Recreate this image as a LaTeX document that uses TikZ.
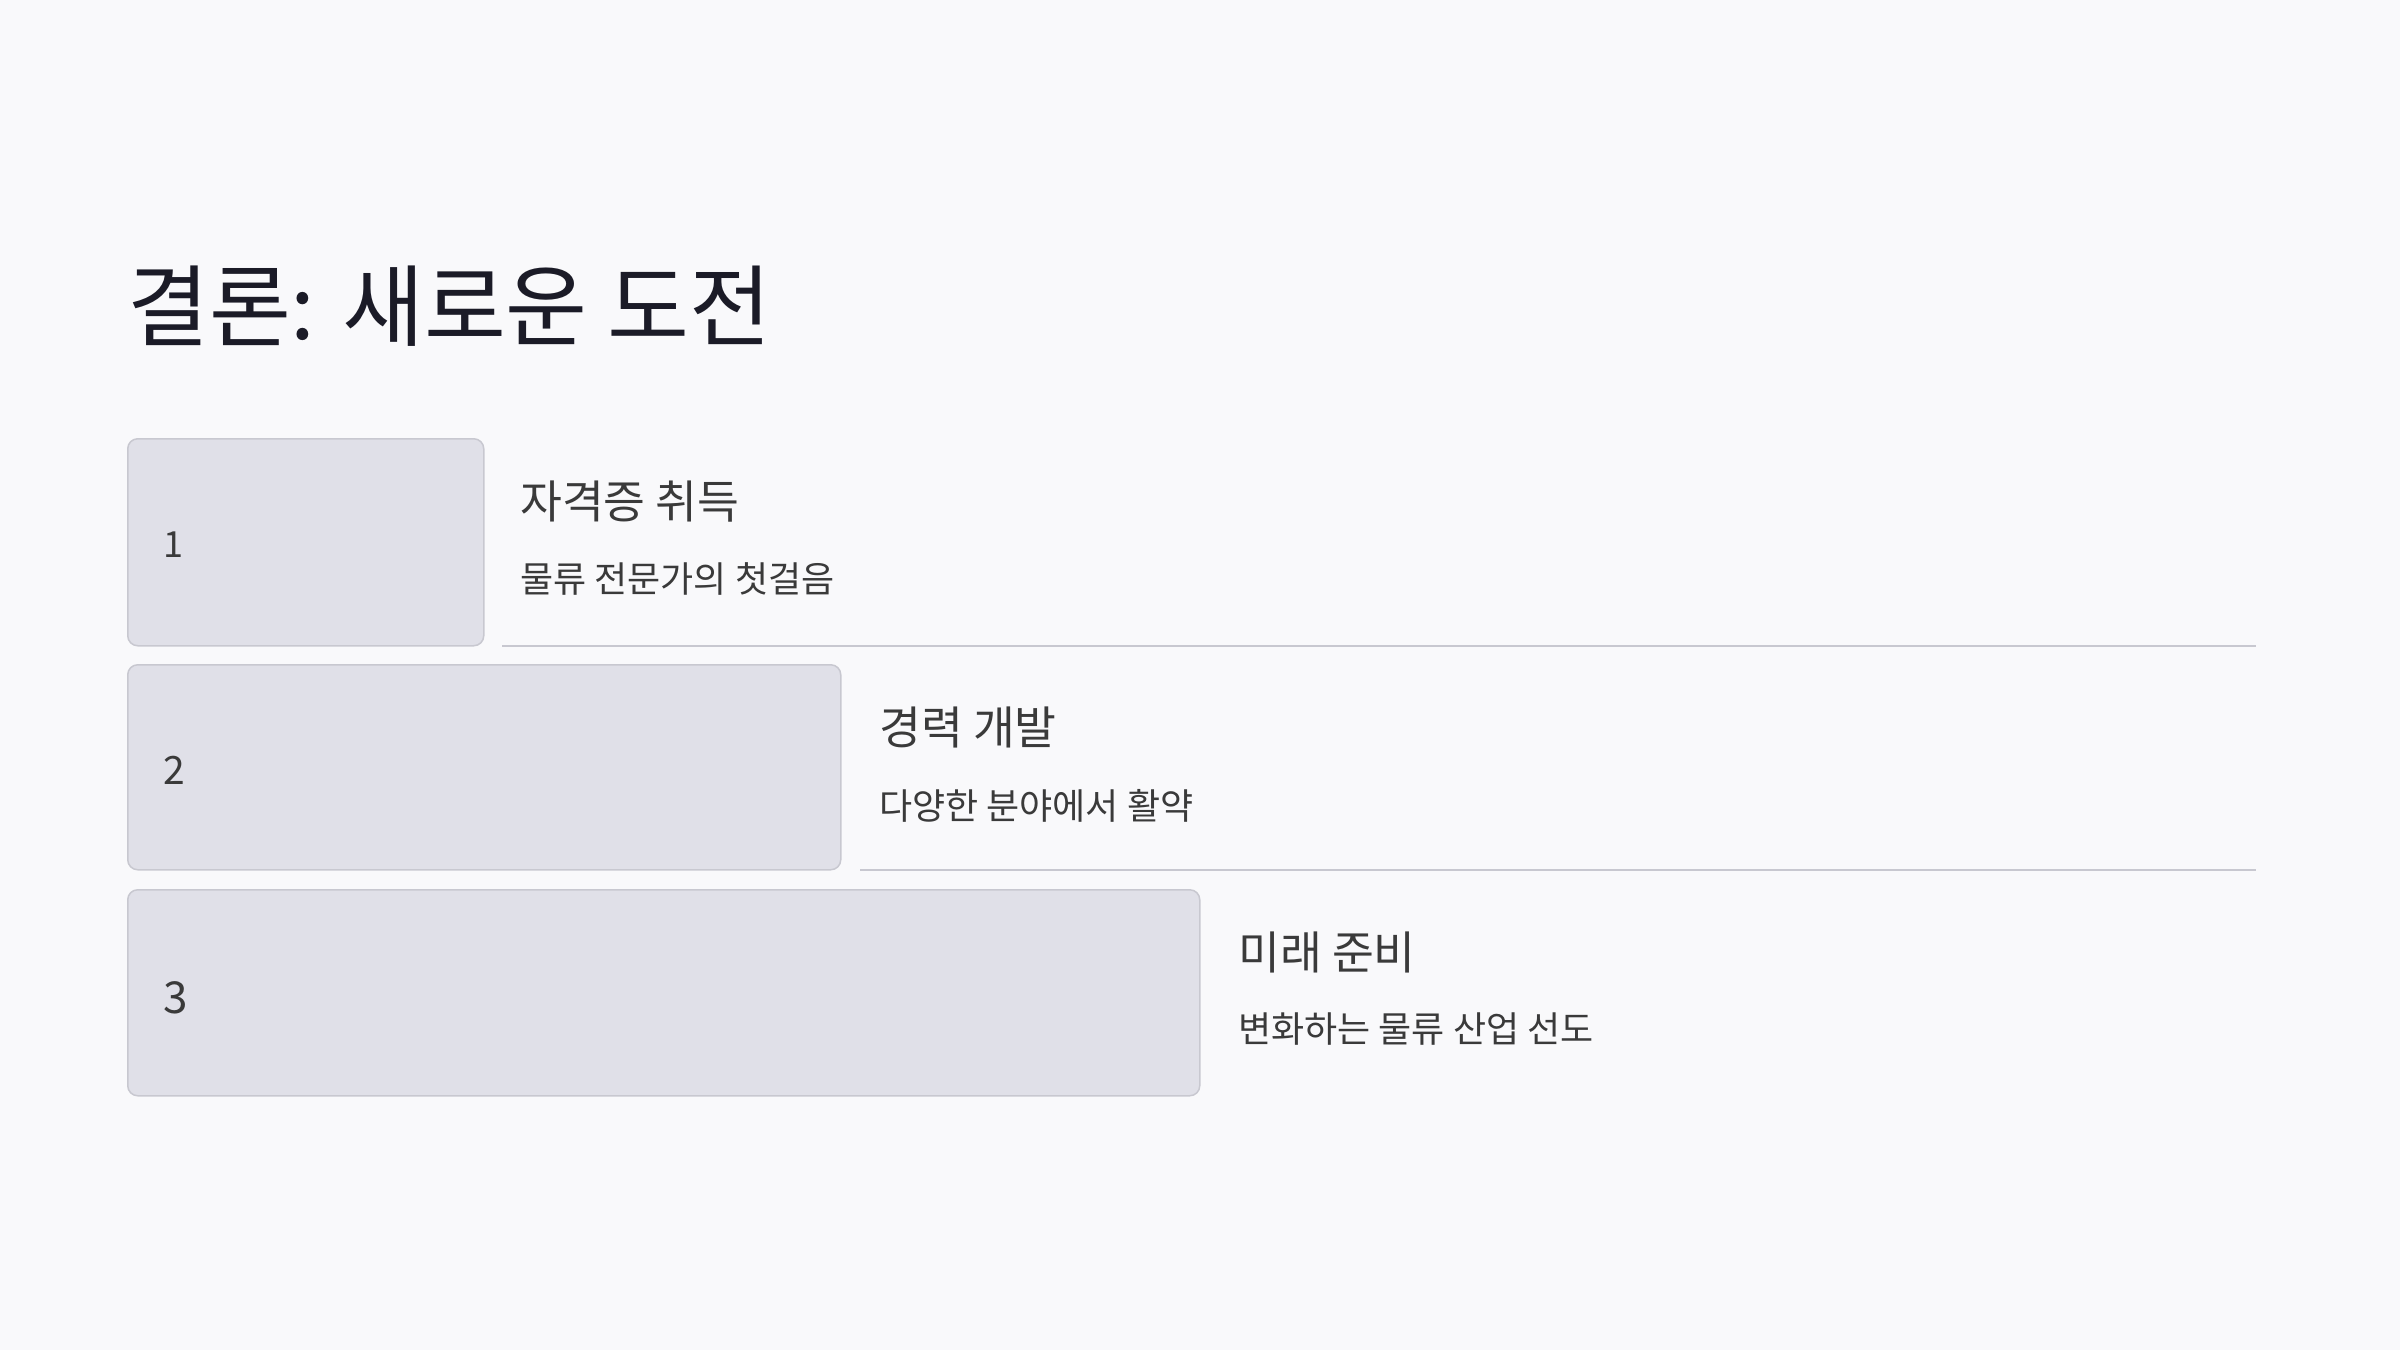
\documentclass[tikz,border=0pt]{standalone}
\usepackage{fontspec}
\newfontfamily\kr{Noto Sans CJK KR}
\definecolor{bgc}{HTML}{F9F9FB}
\definecolor{boxfill}{HTML}{E0E0E8}
\definecolor{boxline}{HTML}{C8C8D0}
\definecolor{titlec}{HTML}{1B1B27}
\definecolor{textc}{HTML}{3A3A3A}
\begin{document}
\begin{tikzpicture}[x=1pt,y=-1pt,
  stepbox/.style={draw=boxline, fill=boxfill, line width=1.5pt, rounded corners=10pt, anchor=north west, inner sep=0pt},
  numtxt/.style={anchor=west, inner sep=0pt, text=textc, font=\kr},
  headtxt/.style={anchor=west, inner sep=0pt, text=textc, font=\kr\fontsize{45.5}{50}\selectfont},
  subtxt/.style={anchor=west, inner sep=0pt, text=textc, font=\kr\fontsize{36}{40}\selectfont},
  sepline/.style={draw=boxline, line width=2pt}]
\fill[bgc] (0,0) rectangle (2400,1350);
\useasboundingbox (0,0) rectangle (2400,1350);

\node[anchor=west, inner sep=0pt, text=titlec, font=\kr\fontsize{89}{100}\selectfont] (title) at (127,306) {결론: 새로운 도전};

\node[stepbox, minimum width=356pt, minimum height=207pt] (b1) at (127,438) {};
\node[stepbox, minimum width=713pt, minimum height=205pt] (b2) at (127,664) {};
\node[stepbox, minimum width=1072pt, minimum height=206pt] (b3) at (127,889) {};

\node[numtxt, font=\kr\fontsize{36}{40}\selectfont] (n1) at (163,545) {1};
\node[numtxt, font=\kr\fontsize{39}{44}\selectfont] (n2) at (163,770) {2};
\node[numtxt, font=\kr\fontsize{44}{48}\selectfont] (n3) at (163,998) {3};

\node[headtxt] (h1) at (520,502) {자격증 취득};
\node[subtxt] (s1) at (520,579) {물류 전문가의 첫걸음};
\node[headtxt] (h2) at (879,727) {경력 개발};
\node[subtxt] (s2) at (879,806) {다양한 분야에서 활약};
\node[headtxt] (h3) at (1238,952) {미래 준비};
\node[subtxt] (s3) at (1238,1029) {변화하는 물류 산업 선도};

\coordinate (l1a) at (502,645.5);
\coordinate (l1b) at (2256,645.5);
\coordinate (l2a) at (860,869.5);
\coordinate (l2b) at (2256,869.5);
\draw[sepline] (l1a) -- (l1b);
\draw[sepline] (l2a) -- (l2b);
\end{tikzpicture}
\end{document}
